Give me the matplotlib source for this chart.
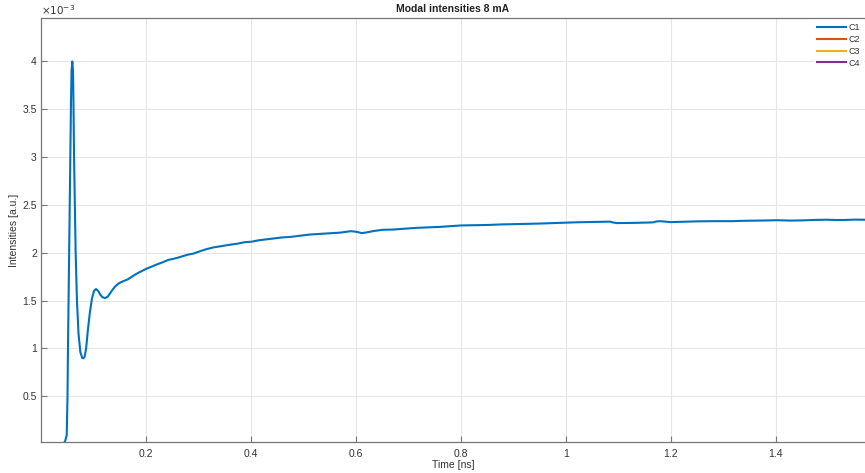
import matplotlib.pyplot as plt

plt.rcParams['font.family'] = ['Liberation Sans', 'DejaVu Sans']

# time axis [ns] and mode C1 intensity [x1e-3 a.u.]
t_c1 = [0.0, 0.040, 0.0425, 0.046, 0.049, 0.0505, 0.0514, 0.0536, 0.0558, 0.0572,
        0.0582, 0.0596, 0.0610, 0.0618, 0.0630, 0.0645, 0.0660, 0.0685, 0.0715,
        0.075, 0.0785, 0.0806, 0.083, 0.086, 0.0895, 0.093, 0.0971, 0.101,
        0.1048, 0.109, 0.113, 0.117, 0.1219, 0.127, 0.131, 0.136, 0.141, 0.146,
        0.150, 0.158, 0.165, 0.172, 0.179, 0.189, 0.200, 0.211, 0.222, 0.232,
        0.2425, 0.252, 0.262, 0.271, 0.280, 0.290, 0.300, 0.314, 0.328, 0.339,
        0.350, 0.362, 0.375, 0.388, 0.401, 0.415, 0.430, 0.445, 0.460, 0.475,
        0.490, 0.501, 0.512, 0.526, 0.540, 0.555, 0.570, 0.580, 0.590, 0.597,
        0.604, 0.611, 0.618, 0.635, 0.652, 0.670, 0.690, 0.703, 0.716, 0.738,
        0.760, 0.780, 0.800, 0.825, 0.850, 0.878, 0.906, 0.928, 0.950, 0.975,
        1.000, 1.020, 1.040, 1.062, 1.084, 1.090, 1.097, 1.113, 1.130, 1.148,
        1.166, 1.172, 1.179, 1.190, 1.200, 1.225, 1.250, 1.285, 1.318, 1.340,
        1.360, 1.382, 1.403, 1.427, 1.450, 1.475, 1.497, 1.515, 1.530, 1.550,
        1.570]
i_c1 = [0.0, 0.0, 0.0, 0.03, 0.09, 0.5, 1.0, 2.0, 3.0, 3.6,
        3.9, 4.0, 3.9, 3.6, 3.0, 2.5, 2.0, 1.5, 1.15,
        0.96, 0.90, 0.895, 0.91, 1.0, 1.2, 1.37, 1.52, 1.60,
        1.62, 1.60, 1.56, 1.535, 1.525, 1.54, 1.57, 1.61, 1.645, 1.67,
        1.685, 1.705, 1.72, 1.745, 1.77, 1.80, 1.83, 1.855, 1.88, 1.90,
        1.925, 1.935, 1.95, 1.965, 1.98, 1.99, 2.01, 2.035, 2.055, 2.065,
        2.075, 2.085, 2.095, 2.11, 2.115, 2.13, 2.14, 2.15, 2.16, 2.165,
        2.175, 2.182, 2.19, 2.195, 2.20, 2.205, 2.21, 2.218, 2.225, 2.222,
        2.215, 2.205, 2.21, 2.228, 2.24, 2.242, 2.25, 2.255, 2.26, 2.265,
        2.27, 2.278, 2.285, 2.287, 2.29, 2.296, 2.30, 2.302, 2.305, 2.31,
        2.315, 2.318, 2.32, 2.322, 2.325, 2.316, 2.31, 2.311, 2.312, 2.315,
        2.317, 2.326, 2.33, 2.325, 2.32, 2.324, 2.328, 2.33, 2.33, 2.334,
        2.335, 2.337, 2.34, 2.336, 2.338, 2.343, 2.345, 2.342, 2.342, 2.346,
        2.345]

series_names = ['C1', 'C2', 'C3', 'C4']
colors = ['#0072BD', '#D95319', '#EDB120', '#7E2F8E']

x_ticks = [0.2, 0.4, 0.6, 0.8, 1.0, 1.2, 1.4]
x_labels = ['0.2', '0.4', '0.6', '0.8', '1', '1.2', '1.4']
y_ticks = [0.5, 1.0, 1.5, 2.0, 2.5, 3.0, 3.5, 4.0]
y_labels = ['0.5', '1', '1.5', '2', '2.5', '3', '3.5', '4']

fig = plt.figure(figsize=(8.65, 4.73), dpi=100)
ax = fig.add_axes([41 / 865, 31 / 473, 1 - 41 / 865, 424 / 473])

ax.plot(t_c1, i_c1, color=colors[0], lw=1.5, label=series_names[0])
# the other modes stay at zero, below the visible range
for name, c in zip(series_names[1:], colors[1:]):
    ax.plot([], [], color=c, lw=1.5, label=name)

ax.set_xlim(0, 1.57)
ax.set_ylim(0.02, 4.455)
ax.set_xticks(x_ticks)
ax.set_xticklabels(x_labels)
ax.set_yticks(y_ticks)
ax.set_yticklabels(y_labels)

ax.grid(True, color='#e6e6e6', lw=0.8)
ax.set_axisbelow(True)
ax.tick_params(direction='in', length=4, width=0.8, colors='#777777',
               labelcolor='#333333', labelsize=7.5)
ax.tick_params(axis='x', pad=5)
ax.tick_params(axis='y', pad=3)
for side in ['top', 'right']:
    ax.spines[side].set_visible(False)
for side in ['left', 'bottom']:
    ax.spines[side].set_color('#777777')
    ax.spines[side].set_linewidth(0.9)
ax.plot([0, 1], [1, 1], transform=ax.transAxes, color='#777777', lw=0.9,
        clip_on=False)

ax.set_title('Modal intensities 8 mA', fontsize=7.5, fontweight='bold',
             color='#222222', pad=4)
ax.set_xlabel('Time [ns]', fontsize=7.5, color='#333333')
ax.xaxis.set_label_coords(0.5, -(465 - 442) / 424)
ax.xaxis.label.set_va('center')
ax.set_ylabel('Intensities [a.u.]', fontsize=7.5, color='#333333')
ax.yaxis.set_label_coords(-(41 - 14) / 824, 0.5)
ax.yaxis.label.set_va('center')
ax.text(0.0, 1.003, r'$\times10^{-3}$', transform=ax.transAxes, fontsize=7.5,
        color='#333333', ha='left', va='bottom')

leg = ax.legend(loc='upper right', fontsize=6.5, frameon=True, fancybox=False,
                handlelength=3.2, handletextpad=0.2, labelspacing=0.3,
                borderaxespad=0.2, borderpad=0.4)
leg.get_frame().set_facecolor('white')
leg.get_frame().set_edgecolor('white')
leg.get_frame().set_alpha(1)
for txt in leg.get_texts():
    txt.set_color('#333333')

fig.savefig('out.png', dpi=100)
